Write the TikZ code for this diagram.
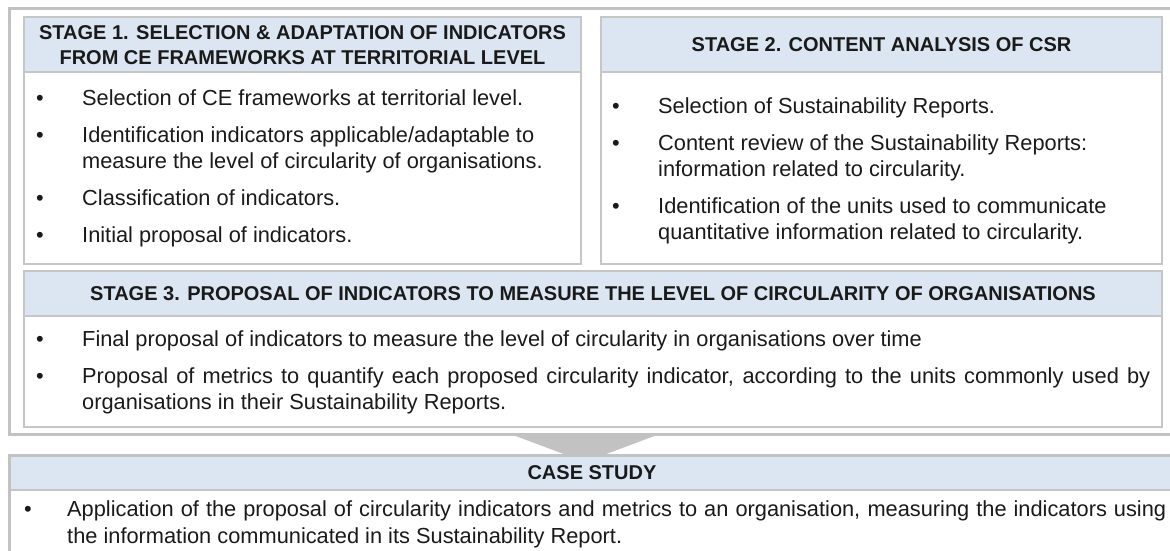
\documentclass[tikz,border=0pt]{standalone}
\usepackage{fontspec}
\setmainfont{Liberation Sans}
\definecolor{framegray}{HTML}{C2C2C2}
\definecolor{boxgray}{HTML}{C6C6C6}
\definecolor{headblue}{HTML}{DCE6F2}
\definecolor{txt}{HTML}{1A1A1A}
\begin{document}
\begin{tikzpicture}[x=1pt,y=-1pt,
  frame/.style={draw=framegray, line width=3pt},
  stagebox/.style={draw=boxgray, line width=1.3pt},
  headfill/.style={fill=headblue},
  headtxt/.style={font=\fontsize{20}{24}\selectfont\bfseries, text=txt, inner sep=0pt, anchor=base},
  bodytxt/.style={font=\fontsize{21.8}{26}\selectfont, text=txt, inner sep=0pt, anchor=base west},
  bul/.style={font=\fontsize{21.8}{26}\selectfont, text=txt, inner sep=0pt, anchor=base west},
  ]
\useasboundingbox (0,0) rectangle (1170,551);
\clip (0,0) rectangle (1170,551);

% outer frame round the three stages
\draw[frame] (9,9) rectangle (1178,434);

% stage 1
\fill[headfill] (24,17) rectangle (581,72);
\draw[stagebox] (24,17) rectangle (581,264) (24,72) -- (581,72);
\node[headtxt] (h1a) at (302.5,40) {STAGE 1. SELECTION \& ADAPTATION OF INDICATORS};
\node[headtxt] (h1b) at (302.5,64) {FROM CE FRAMEWORKS AT TERRITORIAL LEVEL};
\node[bul] (b1a) at (36,105.5) {\textbullet};
\node[bodytxt] (t1a) at (82,105.5) {Selection of CE frameworks at territorial level.};
\node[bul] (b1b) at (36,142.5) {\textbullet};
\node[bodytxt] (t1b) at (82,142.5) {Identification indicators applicable/adaptable to};
\node[bodytxt] (t1c) at (82,168.5) {measure the level of circularity of organisations.};
\node[bul] (b1d) at (36,205.5) {\textbullet};
\node[bodytxt] (t1d) at (82,205.5) {Classification of indicators.};
\node[bul] (b1e) at (36,242.5) {\textbullet};
\node[bodytxt] (t1e) at (82,242.5) {Initial proposal of indicators.};

% stage 2
\fill[headfill] (601,17) rectangle (1162,72);
\draw[stagebox] (601,17) rectangle (1162,264) (601,72) -- (1162,72);
\node[headtxt] (h2) at (881.5,52) {STAGE 2. CONTENT ANALYSIS OF CSR};
\node[bul] (b2a) at (612,113.5) {\textbullet};
\node[bodytxt] (t2a) at (658,113.5) {Selection of Sustainability Reports.};
\node[bul] (b2b) at (612,150.5) {\textbullet};
\node[bodytxt] (t2b) at (658,150.5) {Content review of the Sustainability Reports:};
\node[bodytxt] (t2c) at (658,176.5) {information related to circularity.};
\node[bul] (b2d) at (612,213.5) {\textbullet};
\node[bodytxt] (t2d) at (658,213.5) {Identification of the units used to communicate};
\node[bodytxt] (t2e) at (658,239.5) {quantitative information related to circularity.};

% stage 3
\fill[headfill] (24,271) rectangle (1162,316);
\draw[stagebox] (24,271) rectangle (1162,427) (24,316) -- (1162,316);
\node[headtxt] (h3) at (593,300.5) {STAGE 3. PROPOSAL OF INDICATORS TO MEASURE THE LEVEL OF CIRCULARITY OF ORGANISATIONS};
\node[bul] (b3a) at (36,346.5) {\textbullet};
\node[bodytxt] (t3a) at (82,346.5) {Final proposal of indicators to measure the level of circularity in organisations over time};
\node[bul] (b3b) at (36,383.5) {\textbullet};
\node[bodytxt] (t3b) at (82,383.5) {\makebox[1068pt][s]{Proposal of metrics to quantify each proposed circularity indicator, according to the units commonly used by}};
\node[bodytxt] (t3c) at (82,409.5) {organisations in their Sustainability Reports.};

% arrow from the stages down to the case study
\fill[framegray] (513,435) -- (657,435) -- (585,462) -- cycle;

% case study
\fill[headfill] (9,455) rectangle (1178,490);
\draw[stagebox] (9,490) -- (1178,490);
\draw[frame] (9,455) rectangle (1178,580);
\node[headtxt] (h4) at (592,479.5) {CASE STUDY};
\node[bul] (b4a) at (24,516.5) {\textbullet};
\node[bodytxt] (t4a) at (67,516.5) {\makebox[1099pt][s]{Application of the proposal of circularity indicators and metrics to an organisation, measuring the indicators using}};
\node[bodytxt] (t4b) at (67,543.5) {the information communicated in its Sustainability Report.};
\end{tikzpicture}
\end{document}
